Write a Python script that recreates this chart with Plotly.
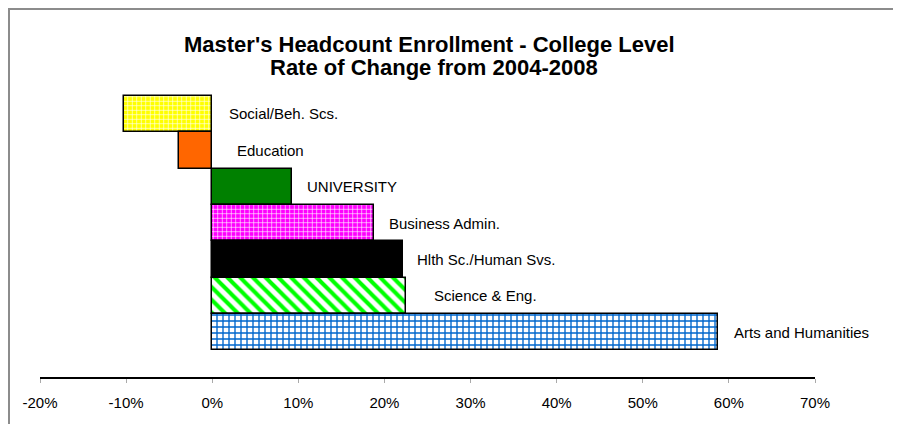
import plotly.graph_objects as go

# data, top to bottom as drawn
colleges = ["Social/Beh. Scs.", "Education", "UNIVERSITY", "Business Admin.",
            "Hlth Sc./Human Svs.", "Science & Eng.", "Arts and Humanities"]
change_pct = [-10.2, -3.9, 9.3, 18.8, 22.2, 22.5, 58.7]
tick_vals = [-20, -10, 0, 10, 20, 30, 40, 50, 60, 70]
tick_text = ["-20%", "-10%", "0%", "10%", "20%", "30%", "40%", "50%", "60%", "70%"]

# fills (Excel style patterns)
bg_colors = ["#FFFF00", "#FF6600", "#008000", "#FF00FF", "#000000", "#FFFFFF", "#FFFFFF"]
fg_colors = ["#FFFFFF", "#FF6600", "#008000", "#FFFFFF", "#000000", "#00FF00", "#0066CC"]
shapes = ["+", "", "", "+", "", "\\", "+"]
sizes = [4.5, 6, 6, 4.5, 6, 9, 6]
solid = [0.25, 0.3, 0.3, 0.25, 0.3, 0.45, 0.4]
label_shift = [15, 23, 13, 13, 12, 26, 14]

FONT = "Arial, Liberation Sans"
W, H = 901, 424
# page body adds 8px, so everything is placed 8px up/left
L, R, T, B = 32, 94, 82, 55
pw = W - L - R
ph = H - T - B

fig = go.Figure()
for name, v, bg, fg, sh, sz, so in zip(colleges, change_pct, bg_colors, fg_colors,
                                        shapes, sizes, solid):
    pat = dict(shape=sh, fgcolor=fg, bgcolor=bg, size=sz, solidity=so,
               fillmode="replace") if sh else dict(shape="")
    fig.add_trace(go.Bar(
        x=[v], y=[name], orientation="h", name=name,
        marker=dict(color=bg, line=dict(color="black", width=1.5), pattern=pat),
    ))

for name, v, dx in zip(colleges, change_pct, label_shift):
    fig.add_annotation(x=max(v, 0), y=name, text=name, showarrow=False,
                       xanchor="left", yanchor="middle", xshift=dx,
                       font=dict(family=FONT, size=15, color="black"))


def py(pix):
    return (H - B - pix) / ph


for line, xpix, ypix in [("Master's Headcount Enrollment - College Level", 422, 37),
                         ("Rate of Change from 2004-2008", 426, 59)]:
    fig.add_annotation(text="<b>" + line + "</b>", xref="paper", yref="paper",
                       x=(xpix - L) / pw, y=py(ypix), xanchor="center", yanchor="middle",
                       showarrow=False, font=dict(family=FONT, size=22, color="black"))

# grey frame round the chart (left/top edges visible)
fig.add_shape(type="rect", xref="paper", yref="paper",
              x0=(1 - L) / pw, x1=(W + 20 - L) / pw,
              y0=py(1), y1=py(H + 20),
              line=dict(color="#8c8c8c", width=2), fillcolor="rgba(0,0,0,0)")

fig.update_layout(
    width=W, height=H,
    margin=dict(l=L, r=R, t=T, b=B),
    paper_bgcolor="white", plot_bgcolor="white",
    barmode="overlay", bargap=0, showlegend=False,
    font=dict(family=FONT, color="black"),
    xaxis=dict(range=[-20, 70], tickvals=tick_vals, ticktext=tick_text,
               showgrid=False, zeroline=False, showline=True, linecolor="black", linewidth=1.5,
               ticks="outside", ticklen=4, tickcolor="#aaaaaa", ticklabelstandoff=7,
               tickfont=dict(size=15, family=FONT, color="black")),
    yaxis=dict(range=[7.236, -0.66], showticklabels=False, showgrid=False,
               zeroline=False, showline=False, ticks="",
               categoryorder="array", categoryarray=colleges),
)

fig.write_html("out.html")
